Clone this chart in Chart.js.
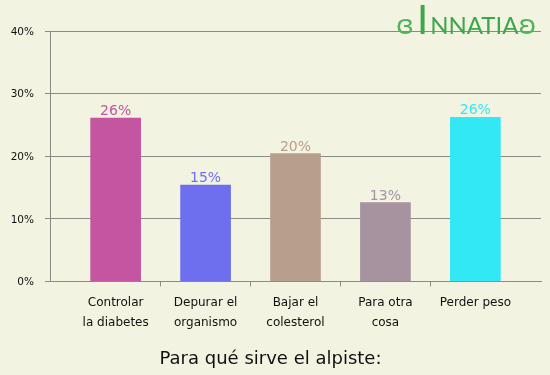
<!DOCTYPE html>
<html>
<head>
<meta charset="utf-8">
<script src="https://cdn.jsdelivr.net/npm/chart.js@4/dist/chart.umd.min.js"></script>
<style>
  html, body { margin: 0; padding: 0; background: #f3f3e2; }
  #wrap { position: relative; width: 550px; height: 375px; }
  #logo { position: absolute; left: 396px; top: 0px; font-family: "Lato", "DejaVu Sans", sans-serif; color: #3da84a; white-space: nowrap; font-size: 39px; line-height: 39px; }
  #logo .big { font-size: 40px; margin-left: 3px; }
  #logo .sm { font-size: 24px; margin-left: 2px; }
  #logo .orn { font-size: 27px; color: #4fb45a; font-family: "DejaVu Sans", sans-serif; }
</style>
</head>
<body>
<div id="wrap">
  <canvas id="c" width="550" height="375"></canvas>
  <div id="logo"><span class="orn">ɞ</span><span class="big">I</span><span class="sm">NNATIA</span><span class="orn">ʚ</span></div>
</div>
<script>
const categories = [
  ['Controlar', 'la diabetes'],
  ['Depurar el', 'organismo'],
  ['Bajar el', 'colesterol'],
  ['Para otra', 'cosa'],
  ['Perder peso']
];
const values = [26.1, 15.4, 20.4, 12.6, 26.2];
const barColors = ['#c455a0', '#6e6fee', '#b89e8d', '#a6939f', '#33e8f5'];
const yTicks = [0, 10, 20, 30, 40];
const titleText = 'Para qué sirve el alpiste:';

const GRID = '#8a8a86';
const FONT = 'DejaVu Sans';
Chart.defaults.font.family = FONT;

const valueLabels = {
  id: 'valueLabels',
  afterDatasetsDraw(chart) {
    const ctx = chart.ctx;
    const meta = chart.getDatasetMeta(0);
    ctx.save();
    ctx.font = '14px "' + FONT + '"';
    ctx.textAlign = 'center';
    ctx.textBaseline = 'alphabetic';
    meta.data.forEach((el, i) => {
      ctx.fillStyle = barColors[i];
      ctx.fillText(Math.round(values[i]) + '%', el.x, el.y - 3);
    });
    ctx.restore();
  }
};

new Chart(document.getElementById('c'), {
  type: 'bar',
  data: {
    datasets: [{
      data: values.map((v, i) => ({ x: i, y: v })),
      backgroundColor: barColors,
      borderWidth: 0,
      barThickness: 50
    }]
  },
  options: {
    responsive: false,
    animation: false,
    layout: { padding: { top: 31, right: 9, left: 0, bottom: 0 } },
    plugins: {
      legend: { display: false },
      tooltip: { enabled: false },
      title: {
        display: true,
        text: titleText,
        position: 'bottom',
        color: '#111',
        font: { size: 18, weight: 'normal' },
        padding: { top: 13, bottom: 5 }
      }
    },
    scales: {
      x: {
        type: 'linear',
        offset: false,
        min: -0.73,
        max: 4.73,
        afterBuildTicks: (scale) => { scale.ticks = categories.map((_, i) => ({ value: i })); },
        afterFit: (scale) => { scale.height = 54; },
        ticks: {
          autoSkip: false,
          maxRotation: 0,
          color: '#111',
          font: { size: 12, lineHeight: 1.667 },
          padding: 6,
          callback: (v) => categories[v]
        },
        grid: {
          offset: true,
          drawOnChartArea: false,
          tickLength: 5,
          color: GRID,
          tickColor: (ctx) => (ctx.index === undefined || ctx.index === 0) ? 'rgba(0,0,0,0)' : GRID
        },
        border: { color: GRID, width: 1 }
      },
      y: {
        min: 0,
        max: 40,
        afterBuildTicks: (scale) => { scale.ticks = yTicks.map(v => ({ value: v })); },
        afterFit: (scale) => { scale.width = 50; },
        ticks: {
          color: '#111',
          font: { size: 10.5 },
          padding: 11,
          labelOffset: 1,
          callback: (v) => v + '%'
        },
        grid: { color: GRID, tickLength: 5, lineWidth: 1 },
        border: { color: GRID, width: 1 }
      }
    }
  },
  plugins: [valueLabels]
});
</script>
</body>
</html>
